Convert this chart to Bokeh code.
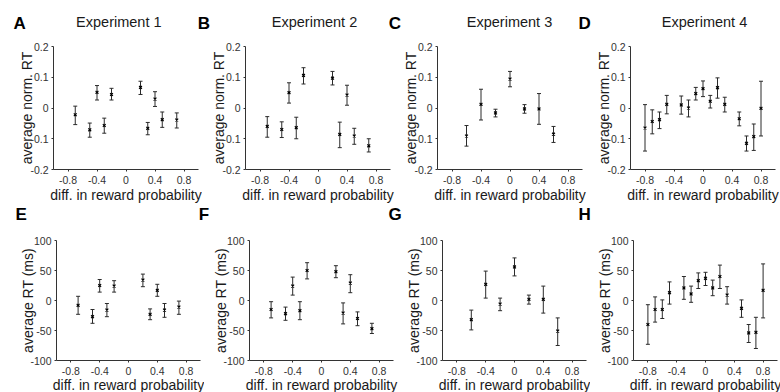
import math
from bokeh.plotting import figure
from bokeh.models import Range1d, FixedTicker, ColumnDataSource, Whisker, TeeHead, LinearAxis
from bokeh.core.properties import value
from bokeh.layouts import row, column
from bokeh.embed import file_html
from bokeh.resources import INLINE

# ---------------- data ----------------
titles = ["Experiment 1", "Experiment 2", "Experiment 3", "Experiment 4"]
letters_top = ["A", "B", "C", "D"]
letters_bottom = ["E", "F", "G", "H"]
x_label = "diff. in reward probability"
norm_label = "average norm. RT"
rt_label = "average RT (ms)"

x_ticks = [-0.8, -0.4, 0, 0.4, 0.8]
x_tick_labels = ["-0.8", "-0.4", "0", "0.4", "0.8"]
norm_ticks = [-0.2, -0.1, 0, 0.1, 0.2]
norm_tick_labels = ["-0.2", "-0.1", "0", "0.1", "0.2"]
rt_ticks = [-100, -50, 0, 50, 100]
rt_tick_labels = ["-100", "-50", "0", "50", "100"]

exp1_x = [-0.7, -0.5, -0.4, -0.3, -0.2, 0.2, 0.3, 0.4, 0.5, 0.7]
exp2_x = [-0.7, -0.5, -0.4, -0.3, -0.2, 0.2, 0.3, 0.4, 0.5, 0.7]
exp3_x = [-0.6, -0.4, -0.2, 0, 0.2, 0.4, 0.6]
exp4_x = [-0.8, -0.7, -0.6, -0.5, -0.3, -0.2, -0.1, 0, 0.1, 0.2, 0.3, 0.5, 0.6, 0.7, 0.8]

exp1_norm = [-0.022, -0.071, 0.051, -0.057, 0.044, 0.067, -0.066, 0.029, -0.038, -0.039]
exp1_norm_lo = [-0.054, -0.095, 0.026, -0.082, 0.026, 0.044, -0.087, 0.005, -0.063, -0.065]
exp1_norm_hi = [0.006, -0.049, 0.073, -0.033, 0.064, 0.087, -0.047, 0.053, -0.013, -0.016]

exp2_norm = [-0.060, -0.070, 0.050, -0.064, 0.106, 0.097, -0.086, 0.042, -0.091, -0.123]
exp2_norm_lo = [-0.095, -0.096, 0.016, -0.100, 0.078, 0.075, -0.129, 0.009, -0.118, -0.143]
exp2_norm_hi = [-0.028, -0.045, 0.082, -0.030, 0.131, 0.119, -0.046, 0.074, -0.066, -0.100]

exp3_norm = [-0.091, 0.012, -0.016, 0.094, -0.003, -0.003, -0.085]
exp3_norm_lo = [-0.124, -0.039, -0.029, 0.069, -0.017, -0.053, -0.112]
exp3_norm_hi = [-0.057, 0.061, -0.004, 0.119, 0.011, 0.047, -0.060]

exp4_norm = [-0.065, -0.044, -0.038, 0.012, 0.010, 0.000, 0.047, 0.063, 0.022, 0.066, 0.012, -0.035, -0.115, -0.093, -0.001]
exp4_norm_lo = [-0.140, -0.084, -0.067, -0.019, -0.020, -0.029, 0.026, 0.037, 0.000, 0.032, -0.013, -0.058, -0.140, -0.138, -0.091]
exp4_norm_hi = [0.011, -0.006, -0.013, 0.041, 0.039, 0.026, 0.067, 0.088, 0.041, 0.098, 0.035, -0.013, -0.091, -0.052, 0.087]

exp1_rt = [-8, -27, 25, -16, 24, 34, -23, 17, -16, -11]
exp1_rt_lo = [-23, -38, 14, -27, 14, 23, -32, 7, -28, -23]
exp1_rt_hi = [7, -15, 35, -5, 33, 44, -14, 27, -5, -1]

exp2_rt = [-15, -22, 24, -17, 50, 48, -21, 29, -30, -47]
exp2_rt_lo = [-29, -33, 9, -32, 36, 38, -39, 13, -42, -55]
exp2_rt_hi = [-2, -11, 39, -2, 63, 58, -4, 43, -19, -38]

exp3_rt = [-32, 27, -6, 56, 2, 2, -51]
exp3_rt_lo = [-49, 4, -17, 41, -6, -21, -75]
exp3_rt_hi = [-16, 49, 4, 71, 9, 24, -29]

exp4_rt = [-40, -15, -15, 13, 21, 11, 33, 37, 21, 40, 9, -13, -54, -53, 17]
exp4_rt_lo = [-73, -36, -30, -6, 2, -3, 20, 25, 8, 20, -6, -28, -70, -80, -29]
exp4_rt_hi = [-7, 6, 1, 31, 40, 24, 46, 47, 34, 59, 23, 1, -40, -28, 61]

xs = [exp1_x, exp2_x, exp3_x, exp4_x]
norm_data = [(exp1_norm, exp1_norm_lo, exp1_norm_hi), (exp2_norm, exp2_norm_lo, exp2_norm_hi),
             (exp3_norm, exp3_norm_lo, exp3_norm_hi), (exp4_norm, exp4_norm_lo, exp4_norm_hi)]
rt_data = [(exp1_rt, exp1_rt_lo, exp1_rt_hi), (exp2_rt, exp2_rt_lo, exp2_rt_hi),
           (exp3_rt, exp3_rt_lo, exp3_rt_hi), (exp4_rt, exp4_rt_lo, exp4_rt_hi)]

# ---------------- styling / layout (pixels) ----------------
FONT = "Liberation Sans"
AXIS_COLOR = "#333333"
TICK_COLOR = "#333333"
LABEL_COLOR = "#1a1a1a"
BAR_COLOR = "#2b2b2b"
W = 780

header_h = 36
top_h = 168
top_widths = [202, 193, 192, 193]
top_left = [53, 43, 42, 43]
top_frame_w, top_frame_top, top_frame_h = 145, 10, 123
top_ylab_off, top_xlab_top = 27, 17.5

mid_h = 24
bot_h = 164
bot_widths = [204, 194, 192, 190]
bot_left = [56, 45, 44, 43]
bot_frame_w, bot_frame_top, bot_frame_h = 144, 12, 120
bot_ylab_off, bot_xlab_top = 29, 16.5

# header text positions (px from left / from strip top, text tops)
title_px = [118.3, 314, 509, 704]
title_top = 13
letter_top_px = [13, 197.3, 388.3, 578]
letter_top_top = 13.8
letter_bot_px = [15, 198.3, 388, 578]
letter_bot_top = 0.5


def tick_axis(loc, bounds, ticks, labels, standoff):
    ax = LinearAxis(fixed_location=loc, bounds=bounds, ticker=FixedTicker(ticks=ticks),
                    major_label_overrides=dict(zip(ticks, labels)))
    ax.major_label_text_font = FONT
    ax.major_label_text_font_size = "10.5px"
    ax.major_label_text_color = TICK_COLOR
    ax.axis_line_color = AXIS_COLOR
    ax.major_tick_line_color = AXIS_COLOR
    ax.minor_tick_line_color = None
    ax.major_tick_in = 0
    ax.major_tick_out = 2
    ax.major_label_standoff = standoff
    return ax


def make_panel(width, height, left, top, fw, fh, yr, yticks, ylabels, ylabel, ylab_off, xlab_top):
    ux = fw / 2.0
    uy = fh / (yr[1] - yr[0])
    p = figure(width=width, height=height, output_backend="svg", toolbar_location=None,
               title=None, x_axis_location=None, y_axis_location=None, min_border=0,
               x_range=Range1d(-1 - left / ux, 1 + (width - left - fw) / ux),
               y_range=Range1d(yr[0] - (height - top - fh) / uy, yr[1] + top / uy))
    p.outline_line_color = None
    p.xgrid.visible = False
    p.ygrid.visible = False
    p.background_fill_color = "white"
    p.border_fill_color = "white"
    p.add_layout(tick_axis(-1, tuple(yr), yticks, ylabels, 3), "left")
    p.add_layout(tick_axis(yr[0], (-1, 1), x_ticks, x_tick_labels, 4), "below")
    # axis titles
    p.text(x=[-1 - ylab_off / ux], y=[(yr[0] + yr[1]) / 2], text=[ylabel], angle=math.pi / 2,
           text_font=value(FONT), text_font_size="14px", text_color=LABEL_COLOR,
           text_align="center", text_baseline="middle")
    p.text(x=[0], y=[yr[0] - xlab_top / uy], text=[x_label],
           text_font=value(FONT), text_font_size="14px", text_color=LABEL_COLOR,
           text_align="center", text_baseline="top")
    return p


def add_series(p, x, mean, lo, hi):
    src = ColumnDataSource(dict(x=x, m=mean, lo=lo, hi=hi))
    w = Whisker(source=src, base="x", lower="lo", upper="hi", dimension="height",
                line_color=BAR_COLOR, line_width=1,
                lower_head=TeeHead(size=4, line_color=BAR_COLOR, line_width=1),
                upper_head=TeeHead(size=4, line_color=BAR_COLOR, line_width=1))
    p.add_layout(w)
    p.scatter("x", "m", source=src, marker="x", size=4, line_width=1.2, color="black")


def make_strip(height):
    s = figure(width=W, height=height, output_backend="svg", toolbar_location=None,
               title=None, x_range=Range1d(0, W), y_range=Range1d(height, 0),
               x_axis_location=None, y_axis_location=None, min_border=0)
    s.outline_line_color = None
    s.xgrid.visible = False
    s.ygrid.visible = False
    s.background_fill_color = "white"
    s.border_fill_color = "white"
    return s


# header strip with panel letters and experiment titles
header = make_strip(header_h)
header.text(x=letter_top_px, y=[letter_top_top] * 4, text=letters_top,
            text_font=value(FONT), text_font_size="17px", text_font_style="bold",
            text_color="black", text_align="left", text_baseline="top")
header.text(x=title_px, y=[title_top] * 4, text=titles,
            text_font=value(FONT), text_font_size="14.5px",
            text_color=LABEL_COLOR, text_align="center", text_baseline="top")

top_figs = []
for i in range(4):
    p = make_panel(top_widths[i], top_h, top_left[i], top_frame_top, top_frame_w, top_frame_h,
                   [-0.2, 0.2], norm_ticks, norm_tick_labels, norm_label,
                   top_ylab_off, top_xlab_top)
    m, lo, hi = norm_data[i]
    add_series(p, xs[i], m, lo, hi)
    top_figs.append(p)

mid = make_strip(mid_h)
mid.text(x=letter_bot_px, y=[letter_bot_top] * 4, text=letters_bottom,
         text_font=value(FONT), text_font_size="17px", text_font_style="bold",
         text_color="black", text_align="left", text_baseline="top")

bot_figs = []
for i in range(4):
    p = make_panel(bot_widths[i], bot_h, bot_left[i], bot_frame_top, bot_frame_w, bot_frame_h,
                   [-100, 100], rt_ticks, rt_tick_labels, rt_label,
                   bot_ylab_off, bot_xlab_top)
    m, lo, hi = rt_data[i]
    add_series(p, xs[i], m, lo, hi)
    bot_figs.append(p)

layout = column(header, row(*top_figs, spacing=0), mid, row(*bot_figs, spacing=0), spacing=0)

with open("out.html", "w") as f:
    f.write(file_html(layout, INLINE))
